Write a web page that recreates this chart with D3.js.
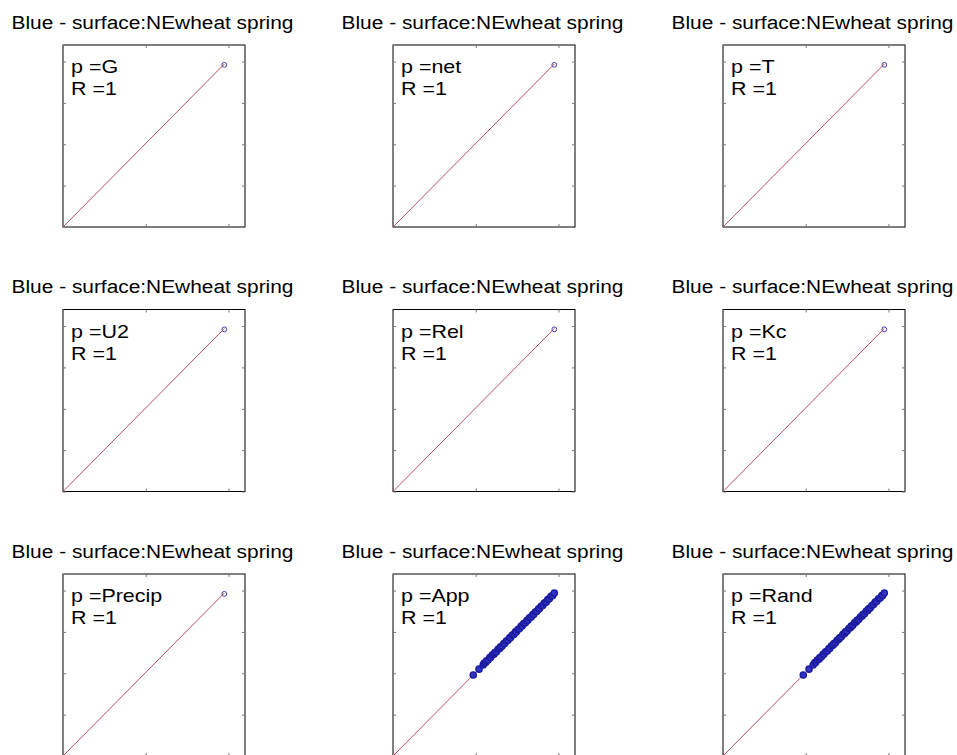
<!DOCTYPE html>
<html>
<head>
<meta charset="utf-8">
<script src="https://cdn.jsdelivr.net/npm/d3@7/dist/d3.min.js"></script>
<style>
  html, body { margin: 0; padding: 0; background: #fff; }
  svg { display: block; }
  text { font-family: "Liberation Sans", Arial, Helvetica, sans-serif; fill: #000; }
</style>
</head>
<body>
<svg id="chart" width="957" height="755"></svg>
<script>
// ---- data ----
const panelTitles = ["Blue - surface:NEwheat spring","Blue - surface:NEwheat spring","Blue - surface:NEwheat spring",
                     "Blue - surface:NEwheat spring","Blue - surface:NEwheat spring","Blue - surface:NEwheat spring",
                     "Blue - surface:NEwheat spring","Blue - surface:NEwheat spring","Blue - surface:NEwheat spring"];
const paramNames = ["G", "net", "T", "U2", "Rel", "Kc", "Precip", "App", "Rand"];
const rValues = [1, 1, 1, 1, 1, 1, 1, 1, 1];
const xTicks = [0, 1, 2];
const yTicks = [0, 0.5, 1, 1.5, 2];
const xDomain = [0, 2.2];
const yDomain = [0, 2.2];

// single-point panels
const singleX = [1.95];
const singleY = [1.96];

// dense panels (App, Rand)
const appX = [0.97, 1.04, 1.09, 1.10, 1.12, 1.13, 1.15, 1.17, 1.18, 1.20, 1.22, 1.23, 1.25, 1.27, 1.29, 1.30,
              1.32, 1.34, 1.35, 1.37, 1.39, 1.41, 1.42, 1.44, 1.46, 1.48, 1.49, 1.51, 1.53, 1.55, 1.56, 1.58,
              1.60, 1.62, 1.63, 1.65, 1.67, 1.69, 1.70, 1.72, 1.74, 1.76, 1.77, 1.79, 1.81, 1.83, 1.85, 1.87,
              1.89, 1.91, 1.93, 1.95];
const appY = [0.98, 1.05, 1.10, 1.12, 1.13, 1.15, 1.16, 1.19, 1.19, 1.22, 1.23, 1.25, 1.26, 1.29, 1.30, 1.32,
              1.33, 1.36, 1.36, 1.39, 1.40, 1.43, 1.43, 1.46, 1.47, 1.50, 1.50, 1.53, 1.54, 1.57, 1.57, 1.60,
              1.61, 1.64, 1.64, 1.67, 1.68, 1.71, 1.71, 1.74, 1.75, 1.78, 1.78, 1.81, 1.82, 1.85, 1.86, 1.89,
              1.90, 1.93, 1.94, 1.97];
const randX = [0.97, 1.04, 1.09, 1.11, 1.12, 1.14, 1.16, 1.17, 1.19, 1.21, 1.22, 1.24, 1.26, 1.28, 1.29, 1.31,
               1.33, 1.34, 1.36, 1.38, 1.40, 1.41, 1.43, 1.45, 1.47, 1.48, 1.50, 1.52, 1.54, 1.55, 1.57, 1.59,
               1.61, 1.62, 1.64, 1.66, 1.68, 1.69, 1.71, 1.73, 1.75, 1.76, 1.78, 1.80, 1.82, 1.84, 1.86, 1.88,
               1.90, 1.92, 1.93, 1.95];
const randY = [0.98, 1.05, 1.10, 1.13, 1.13, 1.16, 1.17, 1.19, 1.20, 1.23, 1.23, 1.26, 1.27, 1.30, 1.30, 1.33,
               1.34, 1.36, 1.37, 1.40, 1.41, 1.43, 1.44, 1.47, 1.48, 1.50, 1.51, 1.54, 1.55, 1.57, 1.58, 1.61,
               1.62, 1.64, 1.65, 1.68, 1.69, 1.71, 1.72, 1.75, 1.76, 1.78, 1.79, 1.82, 1.83, 1.86, 1.87, 1.90,
               1.91, 1.94, 1.94, 1.97];
// fitted line end points (x, y)
const fitX = [0, 1.95];
const fitY = [0, 1.97];

const panelPoints = [
  [singleX, singleY], [singleX, singleY], [singleX, singleY],
  [singleX, singleY], [singleX, singleY], [singleX, singleY],
  [singleX, singleY], [appX, appY], [randX, randY]
];

// ---- layout ----
const svg = d3.select("#chart");
const size = 182;
const colLeft = [63, 393, 723];
const rowTop = [45, 309.5, 574];
const stretch = 1.16;

paramNames.forEach((p, i) => {
  const col = i % 3, row = Math.floor(i / 3);
  const left = colLeft[col], top = rowTop[row];
  const g = svg.append("g").attr("transform", `translate(${left},${top})`);
  const x = d3.scaleLinear().domain(xDomain).range([0, size]);
  const y = d3.scaleLinear().domain(yDomain).range([size, 0]);

  // title
  svg.append("text")
    .attr("transform", `translate(${left + size / 2 - 1.5},${top - 16.5}) scale(${stretch},1)`)
    .attr("text-anchor", "middle")
    .style("font-size", "18px")
    .text(panelTitles[i]);

  // box
  g.append("rect").attr("x", 0).attr("y", 0).attr("width", size).attr("height", size)
    .attr("fill", "#fff").attr("stroke", "#000").attr("stroke-width", 1);

  // ticks on all sides (inside)
  const tl = 3, tc = "#777";
  const addAx = (ax, tr) => {
    const a = g.append("g").attr("transform", tr).call(ax);
    a.select(".domain").remove();
    a.selectAll("line").attr("stroke", tc);
  };
  addAx(d3.axisTop(x).tickValues(xTicks).tickSize(tl).tickFormat(""), `translate(0,${size})`);
  addAx(d3.axisBottom(x).tickValues(xTicks).tickSize(tl).tickFormat(""), `translate(0,0)`);
  addAx(d3.axisRight(y).tickValues(yTicks).tickSize(tl).tickFormat(""), `translate(0,0)`);
  addAx(d3.axisLeft(y).tickValues(yTicks).tickSize(tl).tickFormat(""), `translate(${size},0)`);

  // fit line
  const lineData = fitX.map((v, k) => [v, fitY[k]]);
  g.append("path").datum(lineData)
    .attr("d", d3.line().x(d => x(d[0])).y(d => y(d[1])))
    .attr("fill", "none").attr("stroke", "#b8505a").attr("stroke-width", 1);

  // points
  const [px, py] = panelPoints[i];
  const pts = px.map((v, k) => [v, py[k]]);
  const dense = pts.length > 1;
  g.append("g").selectAll("circle").data(pts).join("circle")
    .attr("cx", d => x(d[0])).attr("cy", d => y(d[1]))
    .attr("r", dense ? 3.1 : 2.4)
    .attr("fill", dense ? "#3434c4" : "none")
    .attr("stroke", dense ? "#1c1ca0" : "#4a3aa8")
    .attr("stroke-width", dense ? 1.4 : 1);

  // annotations
  svg.append("text")
    .attr("transform", `translate(${left + 8},${top + 28}) scale(${stretch},1)`)
    .style("font-size", "18.5px")
    .text("p =" + p);
  svg.append("text")
    .attr("transform", `translate(${left + 8},${top + 50}) scale(${stretch},1)`)
    .style("font-size", "18.5px")
    .text("R =" + rValues[i]);
});
</script>
</body>
</html>
